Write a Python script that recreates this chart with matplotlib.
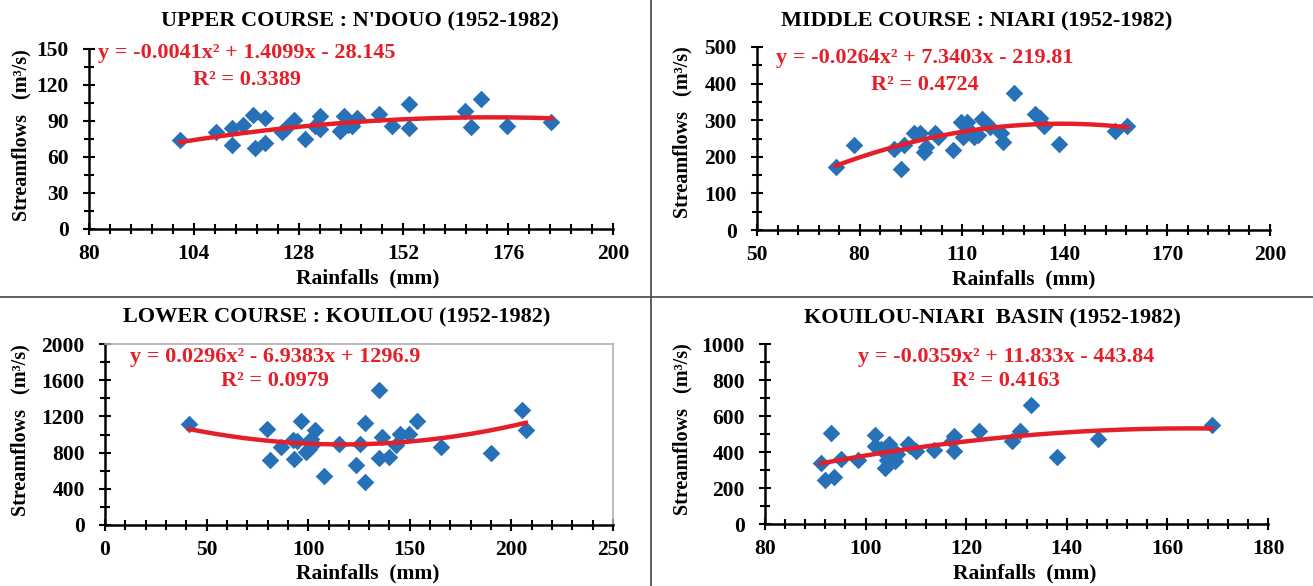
import numpy as np
import matplotlib
matplotlib.use('Agg')
import matplotlib.pyplot as plt
from matplotlib.lines import Line2D

plt.rcParams['font.family'] = ['Liberation Serif', 'DejaVu Serif']
plt.rcParams['font.weight'] = 'bold'

# upper course : N'Douo
rain_ndouo = [100.9, 109.0, 112.8, 112.8, 115.2, 117.5, 118.0, 120.4, 120.4, 124.2,
              125.1, 127.0, 129.4, 131.8, 132.9, 132.9, 137.5, 138.4, 139.4, 140.3,
              141.3, 146.5, 149.4, 153.2, 153.2, 166.0, 167.4, 169.8, 175.7, 185.9]
flow_ndouo = [74.0, 80.7, 69.6, 84.3, 87.0, 95.3, 67.7, 92.5, 71.3, 80.7,
              84.3, 90.6, 75.1, 85.6, 93.9, 83.4, 81.5, 93.9, 87.0, 85.6,
              92.5, 96.1, 86.2, 104.4, 84.3, 98.1, 85.1, 108.3, 86.2, 89.0]
coef_ndouo = [-0.0041, 1.4099, -28.145]

# middle course : Niari
rain_niari = [73.1, 78.4, 90.0, 92.1, 93.1, 96.0, 97.8, 98.8, 99.4, 102.1,
              102.8, 107.3, 109.7, 110.1, 111.3, 111.8, 113.4, 114.6, 115.8, 117.0,
              118.2, 121.3, 121.9, 125.2, 131.3, 132.8, 134.0, 138.3, 154.7, 158.3]
flow_niari = [171, 232, 220, 166, 232, 264, 266, 214, 227, 266,
              255, 218, 296, 255, 296, 277, 255, 259, 302, 291,
              282, 264, 241, 373, 316, 305, 284, 236, 271, 284]
coef_niari = [-0.0264, 7.3403, -219.81]

# lower course : Kouilou
rain_kouilou = [41.3, 79.7, 81.1, 86.5, 92.6, 93.0, 94.6, 96.7, 98.7, 100.2,
                101.6, 103.2, 102.2, 107.9, 115.1, 123.7, 125.7, 127.8, 127.8, 134.9,
                134.9, 136.3, 140.0, 143.1, 145.1, 149.8, 153.3, 165.6, 190.1, 205.4, 207.1]
flow_kouilou = [1119, 1064, 716, 862, 936, 734, 925, 1145, 807, 844,
                954, 1046, 899, 539, 899, 661, 899, 1130, 477, 1494,
                741, 972, 752, 881, 1009, 1009, 1145, 862, 800, 1266, 1046]
coef_kouilou = [0.0296, -6.9383, 1296.9]

# Kouilou-Niari basin
rain_basin = [91.1, 92.0, 93.2, 93.8, 95.1, 98.5, 101.8, 101.8, 103.0, 103.9,
              104.3, 104.7, 105.5, 105.9, 106.3, 108.4, 108.8, 110.1, 113.6, 117.1,
              117.5, 117.5, 122.6, 129.1, 130.7, 132.8, 138.0, 146.2, 168.8]
flow_basin = [339, 246, 506, 259, 361, 357, 493, 431, 419, 311,
              357, 444, 413, 348, 389, 444, 431, 404, 413, 459,
              487, 404, 515, 459, 515, 659, 372, 474, 548]
coef_basin = [-0.0359, 11.833, -443.84]

titles = ["UPPER COURSE : N'DOUO (1952-1982)", "MIDDLE COURSE : NIARI (1952-1982)",
          "LOWER COURSE : KOUILOU (1952-1982)", "KOUILOU-NIARI  BASIN (1952-1982)"]
equations = ["y = -0.0041x² + 1.4099x - 28.145", "y = -0.0264x² + 7.3403x - 219.81",
             "y = 0.0296x² - 6.9383x + 1296.9", "y = -0.0359x² + 11.833x - 443.84"]
r2_labels = ["R² = 0.3389", "R² = 0.4724", "R² = 0.0979", "R² = 0.4163"]

W, H = 1313, 586
blue = '#2671b7'
red = '#e3202a'

fig = plt.figure(figsize=(W / 100, H / 100), dpi=100)


def px(x, y):
    return x / W, 1 - y / H


def add_panel(box, rain, flow, coef, xlim, xmaj, ylim, ymaj, title, eq, r2, pos):
    l, r, t, b = box
    ax = fig.add_axes([l / W, 1 - b / H, (r - l) / W, (b - t) / H])
    ax.scatter(rain, flow, marker='D', s=80, color=blue, zorder=3, linewidths=0)
    xs = np.linspace(min(rain), max(rain), 200)
    ax.plot(xs, np.polyval(coef, xs), color=red, lw=3.2, zorder=4)
    ax.set_xticks(np.arange(xlim[0], xlim[1] + 0.1, xmaj))
    ax.set_xticks(np.arange(xlim[0], xlim[1] + 0.1, xmaj / 5), minor=True)
    ax.set_yticks(np.arange(ylim[0], ylim[1] + 0.1, ymaj))
    ax.set_yticks(np.arange(ylim[0], ylim[1] + 0.1, ymaj / 2), minor=True)
    ax.set_xlim(*xlim)
    ax.set_ylim(*ylim)
    ax.tick_params(which='major', direction='inout', length=9, width=1.5, labelsize=15.5)
    ax.tick_params(axis='x', which='major', pad=6)
    ax.tick_params(axis='y', which='major', pad=10)
    ax.tick_params(which='minor', direction='inout', length=7, width=1.5)
    for s in ['left', 'bottom']:
        ax.spines[s].set_linewidth(1.8)
    for s in ['top', 'right']:
        ax.spines[s].set_visible(False)
    tx, ty, ex, ey1, ey2, lx, ly, yx, yy = pos
    fig.text(*px(tx, ty), title, ha='center', va='center', fontsize=16, fontweight='bold')
    fig.text(*px(ex, ey1), eq, ha='center', va='center', fontsize=16, fontweight='bold', color=red)
    fig.text(*px(ex, ey2), r2, ha='center', va='center', fontsize=16, fontweight='bold', color=red)
    fig.text(*px(lx, ly), 'Rainfalls  (mm)', ha='center', va='center', fontsize=15.5, fontweight='bold')
    fig.text(*px(yx, yy), 'Streamflows   (m³/s)', ha='center', va='center', rotation=90,
             fontsize=14.5, fontweight='bold')
    return ax


add_panel((89, 613, 49, 229), rain_ndouo, flow_ndouo, coef_ndouo, (80, 200), 24, (0, 150), 30,
          titles[0], equations[0], r2_labels[0], (360, 21, 247, 53, 80, 368, 278, 21, 135))
add_panel((757, 1270, 47, 230), rain_niari, flow_niari, coef_niari, (50, 200), 30, (0, 500), 100,
          titles[1], equations[1], r2_labels[1], (977, 21, 925, 58, 85, 1024, 279, 682, 132))
ax3 = add_panel((105, 613, 344, 525), rain_kouilou, flow_kouilou, coef_kouilou, (0, 250), 50, (0, 2000), 400,
                titles[2], equations[2], r2_labels[2], (337, 317, 275, 357, 381, 368, 573, 20, 430))
add_panel((765, 1268, 344, 524), rain_basin, flow_basin, coef_basin, (80, 180), 20, (0, 1000), 200,
          titles[3], equations[3], r2_labels[3], (992, 318, 1006, 357, 381, 1025, 573, 682, 429))

# light box around the lower course plot area
for s in ['top', 'right']:
    ax3.spines[s].set_visible(True)
    ax3.spines[s].set_color('#b0b0b0')
    ax3.spines[s].set_linewidth(1.2)

# panel separators
fig.add_artist(Line2D([651 / W, 651 / W], [0, 1], color='#444444', lw=1.2))
fig.add_artist(Line2D([0, 1], [1 - 297 / H, 1 - 297 / H], color='#444444', lw=1.2))

plt.savefig('out.png', dpi=100)
